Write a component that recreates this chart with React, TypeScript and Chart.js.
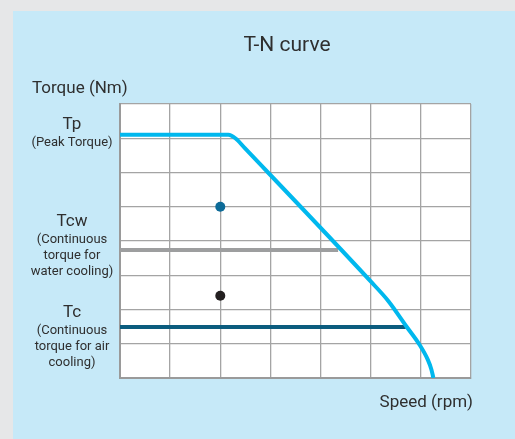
import React, { useEffect, useRef } from "react";
import { Chart, registerables } from "chart.js";

Chart.register(...registerables);

// ---- data ----
const curveSpeed = [0, 2.16, 2.3, 2.49, 5.0, 5.35, 5.72, 5.97, 6.14, 6.21, 6.25];
const curveTorque = [7.1, 7.1, 7.0, 6.71, 2.82, 2.25, 1.49, 0.98, 0.53, 0.25, 0];
const waterSpeed = [0, 4.35];
const waterTorque = [3.74, 3.74];
const airSpeed = [0, 5.7];
const airTorque = [1.49, 1.49];
const dotSpeed = [2, 2];
const dotTorque = [5.0, 2.4];
const dotColors = ["#0d6b98", "#231f20"];

const titleText = "T-N curve";
const yAxisTitle = "Torque (Nm)";
const xAxisTitle = "Speed (rpm)";
const tickValues = [7.39, 4.56, 1.9];
const tickMain = ["Tp", "Tcw", "Tc"];
const tickSub = [
  ["(Peak Torque)"],
  ["(Continuous", "torque for", "water cooling)"],
  ["(Continuous", "torque for air", "cooling)"],
];

const toPts = (xs: number[], ys: number[]) => xs.map((x, i) => ({ x, y: ys[i] }));

const FONT = "Roboto, 'DejaVu Sans', sans-serif";
const TEXT = "#2f2f2f";

const textPlugin = {
  id: "textPlugin",
  beforeDraw(chart: any) {
    const { ctx, chartArea } = chart;
    ctx.save();
    ctx.fillStyle = "#c6e9f8";
    ctx.fillRect(0, 0, chart.width, chart.height);
    ctx.fillStyle = "#ffffff";
    ctx.fillRect(chartArea.left, chartArea.top, chartArea.right - chartArea.left, chartArea.bottom - chartArea.top);
    ctx.restore();
  },
  afterDraw(chart: any) {
    const { ctx, chartArea } = chart;
    const yScale = chart.scales.y;
    ctx.save();
    ctx.fillStyle = TEXT;
    ctx.textBaseline = "middle";
    // title
    ctx.textAlign = "center";
    ctx.font = `21px ${FONT}`;
    ctx.fillText(titleText, chartArea.left + 167, chartArea.top - 58);
    // y axis title
    ctx.textAlign = "left";
    ctx.font = `17px ${FONT}`;
    ctx.fillText(yAxisTitle, chartArea.left - 88, chartArea.top - 15);
    // x axis title
    ctx.textAlign = "right";
    ctx.fillText(xAxisTitle, chartArea.right + 2, chartArea.bottom + 25);
    // y tick labels
    ctx.textAlign = "center";
    const cx = chartArea.left - 48;
    tickValues.forEach((v, i) => {
      const y = yScale.getPixelForValue(v);
      ctx.font = `17px ${FONT}`;
      ctx.fillText(tickMain[i], cx, y);
      ctx.font = `13px ${FONT}`;
      tickSub[i].forEach((line, j) => {
        ctx.fillText(line, cx, y + 18 + j * 15.8);
      });
    });
    ctx.restore();
  },
};

export default function App() {
  const ref = useRef<HTMLCanvasElement>(null);
  useEffect(() => {
    if (!ref.current) return;
    const chart = new Chart(ref.current, {
      type: "line",
      data: {
        datasets: [
          {
            data: toPts(dotSpeed, dotTorque),
            showLine: false,
            pointRadius: 5,
            pointBackgroundColor: dotColors,
            pointBorderColor: dotColors,
            pointBorderWidth: 0,
            order: 0,
          },
          {
            data: toPts(curveSpeed, curveTorque),
            borderColor: "#00b8ee",
            borderWidth: 4,
            pointRadius: 0,
            cubicInterpolationMode: "monotone",
            borderJoinStyle: "round",
            fill: false,
            order: 1,
          },
          {
            data: toPts(waterSpeed, waterTorque),
            borderColor: "#9d9e9f",
            borderWidth: 4,
            pointRadius: 0,
            fill: false,
            order: 2,
          },
          {
            data: toPts(airSpeed, airTorque),
            borderColor: "#0b5c7e",
            borderWidth: 4,
            pointRadius: 0,
            fill: false,
            order: 2,
          },
        ],
      },
      options: {
        responsive: false,
        animation: false,
        layout: { padding: { left: 107, top: 93, right: 44, bottom: 61 } },
        plugins: { legend: { display: false }, tooltip: { enabled: false }, title: { display: false } },
        scales: {
          x: {
            type: "linear",
            min: 0,
            max: 7,
            ticks: { display: false, stepSize: 1 },
            grid: { color: "#a4a4a4", lineWidth: 1.3, drawTicks: false },
            border: { color: "#9a9a9a", width: 2 },
            afterFit: (s: any) => { s.height = 0; },
          },
          y: {
            type: "linear",
            min: 0,
            max: 8,
            ticks: { display: false, stepSize: 1 },
            grid: { color: "#a4a4a4", lineWidth: 1.3, drawTicks: false },
            border: { color: "#9a9a9a", width: 2 },
            afterFit: (s: any) => { s.width = 0; },
          },
        },
      },
      plugins: [textPlugin],
    } as any);
    return () => chart.destroy();
  }, []);
  return (
    <div style={{ position: "fixed", inset: 0, background: "#e6e7e8" }}>
      <div style={{ position: "absolute", left: 13, top: 11, width: 502, height: 428, background: "#c6e9f8" }}>
        <canvas ref={ref} width={502} height={428} style={{ display: "block" }} />
      </div>
    </div>
  );
}
